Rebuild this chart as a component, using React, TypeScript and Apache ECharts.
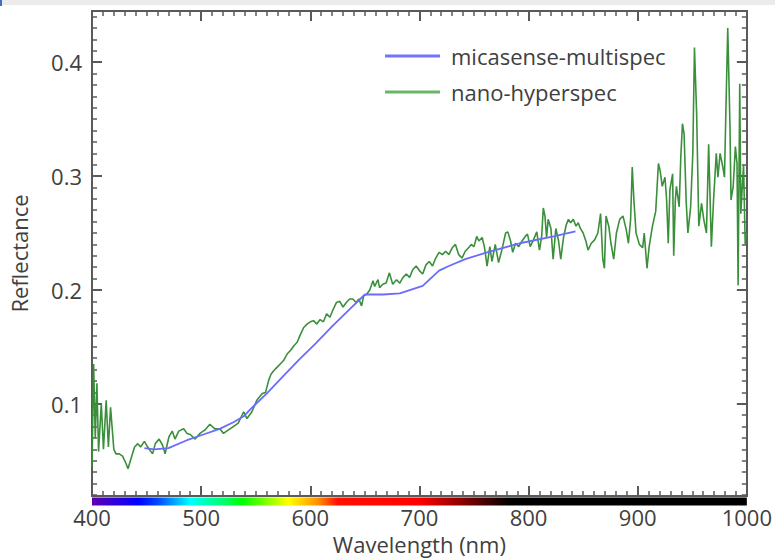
import React, { useEffect, useRef } from "react";
import * as echarts from "echarts";

// nano-hyperspec (green) spectrum
const hyperWavelength = [
  400, 401.5, 403, 404.5, 406, 408.5, 410.5, 413, 415, 417, 420, 422, 425, 428, 431, 433, 435.5, 439, 442, 444.5,
  448, 451, 455.5, 458, 461.5, 464.5, 467, 470.5, 473.5, 476, 479.5, 484, 487, 490, 494.5, 499, 503.5, 508, 512.5, 517,
  520.5, 525, 529.5, 534, 539, 542, 546.5, 551, 556, 559, 562, 564, 566.5, 569.5, 572.5, 575.5, 579, 582, 585, 588,
  591, 594, 597, 600, 603, 606, 609, 612, 615, 618, 621, 624, 627, 630, 633, 636, 639, 642, 644.5, 647,
  649, 651.5, 654.5, 657.5, 659, 662, 663.5, 666.5, 669.5, 672.5, 675.5, 679, 682, 685, 688, 691, 694, 697, 700, 703,
  706, 709, 712, 715, 718, 721, 724, 727, 730, 733, 736, 739, 742, 745, 747.5, 750, 752.5, 754.5, 757.5, 759.5,
  762, 764.5, 766.5, 769.5, 772.5, 775.5, 779, 781, 783.5, 785.5, 788, 791, 794, 797, 799, 801.5, 804.5, 807.5, 810, 812,
  813.5, 815, 816.5, 818, 820.5, 822.5, 825, 827.5, 829.5, 832, 834.5, 836.5, 838.5, 841, 843.5, 845.5, 847.5, 850, 852.5, 854.5,
  857.5, 860.5, 863.5, 866, 868, 869.5, 871, 873.5, 875.5, 878, 880.5, 883.5, 886.5, 889.5, 891.5, 893.5, 895, 896.5, 898.5, 901.5,
  904.5, 906, 908.5, 910.5, 913.5, 916.5, 919, 920.5, 922.5, 925, 926.5, 928, 929.5, 932, 933, 934.5, 935.5, 938, 939.5, 941,
  942.5, 944.5, 946, 948.5, 950.5, 952, 954, 956, 958.5, 960.5, 963, 965, 967.5, 969.5, 972, 973.5, 975.5, 978, 979.5, 981,
  982.5, 984.5, 985.5, 987.5, 989.5, 991, 992, 993.5, 994.5, 995.5, 997, 998.5, 1000,
];
const hyperReflectance = [
  0.045, 0.135, 0.07, 0.118, 0.058, 0.1, 0.06, 0.103, 0.062, 0.097, 0.06, 0.056, 0.056, 0.054, 0.048, 0.043, 0.051, 0.062, 0.065, 0.062,
  0.067, 0.062, 0.056, 0.065, 0.069, 0.064, 0.056, 0.071, 0.076, 0.069, 0.076, 0.078, 0.074, 0.073, 0.069, 0.074, 0.077, 0.082, 0.078, 0.078,
  0.074, 0.077, 0.08, 0.083, 0.093, 0.087, 0.093, 0.103, 0.109, 0.11, 0.121, 0.126, 0.129, 0.132, 0.135, 0.138, 0.144, 0.147, 0.151, 0.154,
  0.161, 0.167, 0.17, 0.172, 0.173, 0.17, 0.174, 0.172, 0.179, 0.176, 0.183, 0.189, 0.19, 0.185, 0.189, 0.192, 0.192, 0.189, 0.192, 0.186,
  0.195, 0.196, 0.2, 0.208, 0.203, 0.209, 0.202, 0.205, 0.206, 0.215, 0.205, 0.209, 0.206, 0.211, 0.214, 0.211, 0.218, 0.221, 0.217, 0.214,
  0.222, 0.225, 0.221, 0.228, 0.233, 0.231, 0.234, 0.231, 0.237, 0.24, 0.231, 0.228, 0.234, 0.237, 0.24, 0.238, 0.247, 0.243, 0.246, 0.238,
  0.221, 0.238, 0.225, 0.24, 0.224, 0.235, 0.25, 0.251, 0.243, 0.233, 0.241, 0.238, 0.243, 0.247, 0.249, 0.238, 0.244, 0.251, 0.235, 0.247,
  0.272, 0.265, 0.246, 0.262, 0.254, 0.227, 0.254, 0.243, 0.227, 0.246, 0.257, 0.262, 0.259, 0.262, 0.256, 0.259, 0.254, 0.25, 0.243, 0.235,
  0.241, 0.244, 0.25, 0.267, 0.227, 0.219, 0.265, 0.256, 0.241, 0.227, 0.25, 0.262, 0.265, 0.253, 0.241, 0.262, 0.308, 0.279, 0.25, 0.24,
  0.237, 0.25, 0.219, 0.238, 0.256, 0.269, 0.311, 0.305, 0.291, 0.299, 0.279, 0.241, 0.288, 0.302, 0.23, 0.279, 0.291, 0.273, 0.317, 0.346,
  0.337, 0.276, 0.25, 0.273, 0.32, 0.413, 0.355, 0.256, 0.276, 0.262, 0.25, 0.328, 0.238, 0.279, 0.32, 0.299, 0.32, 0.308, 0.299, 0.366,
  0.43, 0.346, 0.279, 0.291, 0.326, 0.311, 0.204, 0.381, 0.267, 0.285, 0.31, 0.24, 0.25,
];

// micasense-multispec (blue) spectrum
const multiWavelength = [
  448, 457, 470, 487, 502, 517, 530, 539, 545, 560, 575, 590, 605, 620, 635, 650, 667, 682, 703, 718, 727, 742, 762, 792, 823, 843,
];
const multiReflectance = [
  0.061, 0.06, 0.061, 0.068, 0.073, 0.078, 0.084, 0.089, 0.095, 0.109, 0.124, 0.139, 0.153, 0.168, 0.182, 0.196, 0.196, 0.197, 0.2035,
  0.217, 0.221, 0.227, 0.233, 0.241, 0.247, 0.2515,
];

const seriesNames = ["micasense-multispec", "nano-hyperspec"];
const yTickLabels = [0.1, 0.2, 0.3, 0.4];
const X_MIN = 400;
const X_MAX = 1000;
const Y_MIN = 0.019;
const Y_MAX = 0.445;

const FONT = "Open Sans";
const FONT_SIZE = 22;
const TEXT_COLOR = "#404040";
const AXIS_COLOR = "#5a5a5a";

const yMinorTicks: number[] = [];
for (let i = 2; i <= 44; i++) yMinorTicks.push(+(i / 100).toFixed(2));

const rainbowStops = [
  { offset: 0, color: "#6200b0" },
  { offset: 0.04, color: "#2a00e0" },
  { offset: 0.07, color: "#0000ff" },
  { offset: 0.1, color: "#0048ff" },
  { offset: 0.15, color: "#00ffff" },
  { offset: 0.2, color: "#00ff70" },
  { offset: 0.23, color: "#00ff00" },
  { offset: 0.3, color: "#ffff00" },
  { offset: 0.345, color: "#ff9000" },
  { offset: 0.375, color: "#ff1000" },
  { offset: 0.5, color: "#ff0000" },
  { offset: 0.57, color: "#800000" },
  { offset: 0.635, color: "#000000" },
  { offset: 1, color: "#000000" },
];

export default function App() {
  const ref = useRef<HTMLDivElement>(null);
  useEffect(() => {
    if (!ref.current) return;
    const chart = echarts.init(ref.current, null, { renderer: "svg" });

    const hyperData = hyperWavelength.map((w, i) => [w, hyperReflectance[i]]);
    const multiData = multiWavelength.map((w, i) => [w, multiReflectance[i]]);

    const tickLine = { color: AXIS_COLOR, width: 2 };
    const xCommon = {
      type: "value" as const,
      min: X_MIN,
      max: X_MAX,
      interval: 100,
      axisLine: { show: true, onZero: false, lineStyle: tickLine },
      axisTick: { show: true, inside: true, length: 10, lineStyle: tickLine },
      minorTick: { show: true, splitNumber: 10, length: 5, lineStyle: { color: AXIS_COLOR, width: 1.5 } },
      splitLine: { show: false },
      minorSplitLine: { show: false },
    };
    const yCommon = {
      type: "value" as const,
      min: Y_MIN,
      max: Y_MAX,
      axisLine: { show: true, onZero: false, lineStyle: tickLine },
      splitLine: { show: false },
    };
    const textStyle = { fontFamily: FONT, fontSize: FONT_SIZE, color: TEXT_COLOR, lineHeight: 22 };

    chart.setOption({
      animation: false,
      backgroundColor: "#ffffff",
      grid: { left: 90, right: 25, top: 11, bottom: 60, containLabel: false },
      legend: {
        orient: "vertical",
        left: 380,
        top: 40,
        icon: "rect",
        itemWidth: 55,
        itemHeight: 3,
        itemGap: 14,
        data: seriesNames,
        textStyle: { ...textStyle, padding: [0, 0, 0, 6] },
      },
      graphic: [
        { type: "rect", left: 0, top: 0, shape: { width: 775, height: 5 }, style: { fill: "#ebebeb" } },
        { type: "rect", left: 0, top: 0, shape: { width: 2, height: 6 }, style: { fill: "#3d6fc4" } },
      ],
      xAxis: [
        {
          ...xCommon,
          position: "bottom",
          axisLabel: { show: true, margin: 10, ...textStyle, formatter: (v: number) => String(v) },
          name: "Wavelength (nm)",
          nameLocation: "middle",
          nameGap: 37,
          nameTextStyle: textStyle,
        },
        { ...xCommon, position: "top", axisLabel: { show: false } },
      ],
      yAxis: [
        {
          ...yCommon,
          position: "left",
          axisTick: { show: true, inside: true, length: 10, lineStyle: tickLine, customValues: yTickLabels },
          axisLabel: {
            show: true,
            margin: 10,
            customValues: yTickLabels,
            formatter: (v: number) => v.toFixed(1),
            ...textStyle,
          },
          name: "Reflectance",
          nameLocation: "middle",
          nameGap: 62,
          nameRotate: 90,
          nameTextStyle: textStyle,
        },
        {
          ...yCommon,
          position: "left",
          axisTick: { show: true, inside: true, length: 5, lineStyle: { color: AXIS_COLOR, width: 1.5 }, customValues: yMinorTicks },
          axisLabel: { show: false },
        },
        {
          ...yCommon,
          position: "right",
          axisTick: { show: true, inside: true, length: 10, lineStyle: tickLine, customValues: yTickLabels },
          axisLabel: { show: false },
        },
        {
          ...yCommon,
          position: "right",
          axisTick: { show: true, inside: true, length: 5, lineStyle: { color: AXIS_COLOR, width: 1.5 }, customValues: yMinorTicks },
          axisLabel: { show: false },
        },
      ],
      series: [
        {
          type: "custom",
          name: "spectrum-bar",
          xAxisIndex: 0,
          yAxisIndex: 0,
          clip: false,
          silent: true,
          data: [[X_MIN, X_MAX]],
          renderItem: (_params: any, api: any) => {
            const p0 = api.coord([X_MIN, Y_MIN]);
            const p1 = api.coord([X_MAX, Y_MIN]);
            return {
              type: "rect",
              shape: { x: p0[0], y: p0[1] + 1.5, width: p1[0] - p0[0], height: 8 },
              style: { fill: new echarts.graphic.LinearGradient(0, 0, 1, 0, rainbowStops) },
            };
          },
          z: 1,
        },
        {
          type: "line",
          name: seriesNames[1],
          data: hyperData,
          xAxisIndex: 0,
          yAxisIndex: 0,
          showSymbol: false,
          symbol: "none",
          lineStyle: { color: "#3a8f3a", width: 1.6 },
          itemStyle: { color: "#66b866" },
          z: 2,
        },
        {
          type: "line",
          name: seriesNames[0],
          data: multiData,
          xAxisIndex: 0,
          yAxisIndex: 0,
          showSymbol: false,
          symbol: "none",
          lineStyle: { color: "#6b6bff", width: 1.8 },
          itemStyle: { color: "#7373ff" },
          z: 3,
        },
      ],
    });
    return () => chart.dispose();
  }, []);

  return (
    <div
      ref={ref}
      style={{ position: "fixed", left: 0, top: 0, width: 775, height: 560, background: "#fff" }}
    />
  );
}
